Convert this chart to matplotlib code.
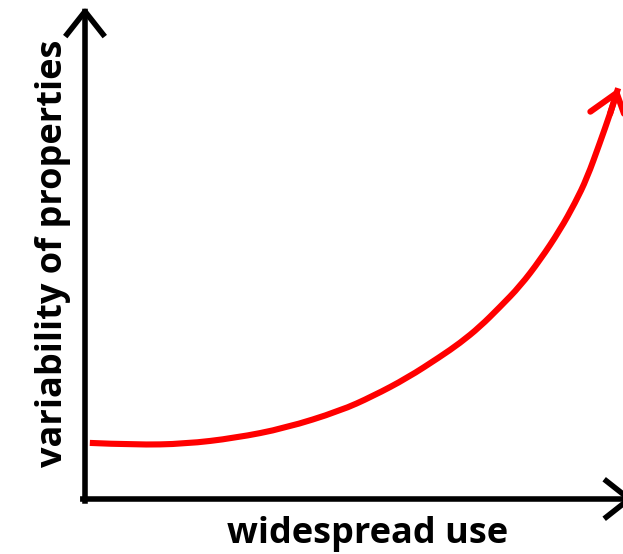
import matplotlib

matplotlib.use("Agg")
import matplotlib.pyplot as plt
from matplotlib.patches import PathPatch
from matplotlib.path import Path

OUTPUT_FILENAME = "out.png"

COLOR_CURVE = "#ff0000"
COLOR_AXIS = "#000000"

X_LABEL = "widespread use"
Y_LABEL = "variability of properties"

# curve (x: 0-100 along the x axis, y: 0-100 along the y axis)
usage = [0.9, 9.3, 18.6, 27.9, 37.2, 47.4, 53.5, 59.9, 66.0, 69.7, 73.4, 77.1, 80.9,
         84.6, 88.3, 91.1, 93.3, 95.7, 97.6, 99.1]
variability = [11.4, 11.0, 11.2, 12.4, 14.4, 17.9, 20.9, 24.6, 28.9, 31.7, 35.0, 39.0, 43.3,
               48.6, 54.7, 60.2, 65.2, 72.4, 78.3, 83.5]

W, H = 623, 554


def smooth_path(xs, ys):
    # quadratic bezier through the midpoints, read points used as control points
    verts = [(xs[0], ys[0])]
    codes = [Path.MOVETO]
    for i in range(1, len(xs) - 1):
        mid = ((xs[i] + xs[i + 1]) / 2, (ys[i] + ys[i + 1]) / 2)
        verts += [(xs[i], ys[i]), mid]
        codes += [Path.CURVE3, Path.CURVE3]
    verts.append((xs[-1], ys[-1]))
    codes.append(Path.LINETO)
    return Path(verts, codes)


def render():
    fig = plt.figure(figsize=(W / 100, H / 100), dpi=100)
    fig.patch.set_facecolor("white")

    # axes box: origin at pixel (85, 499), y tip at pixel 7, x 100 -> pixel 623
    ax = fig.add_axes([85 / W, (H - 499) / H, 538 / W, 492 / H])
    ax.set_xlim(0, 100)
    ax.set_ylim(0, 100)
    ax.axis("off")

    # ---- axis arrows ----
    axis_arrow = dict(arrowstyle="->,head_length=1.65,head_width=1.3", lw=4.0, color=COLOR_AXIS,
                      shrinkA=0, shrinkB=0, mutation_scale=10, capstyle="projecting")
    ax.annotate("", xy=(0, 100), xytext=(0, -0.4), arrowprops=axis_arrow, annotation_clip=False)
    ax.annotate("", xy=(102, 0), xytext=(-0.4, 0), arrowprops=axis_arrow, annotation_clip=False)

    # ---- red curve ----
    ax.add_patch(PathPatch(smooth_path(usage, variability), facecolor="none", edgecolor=COLOR_CURVE,
                           lw=4.4, capstyle="butt", joinstyle="round", clip_on=False))
    ax.annotate("", xy=(usage[-1], variability[-1]), xytext=(usage[-2], variability[-2]),
                arrowprops=dict(arrowstyle="->,head_length=1.85,head_width=1.4", lw=4.4, color=COLOR_CURVE,
                                shrinkA=0, shrinkB=0, mutation_scale=10),
                annotation_clip=False)

    # ---- labels ----
    font = dict(family=["Open Sans", "DejaVu Sans"], fontweight="bold", fontsize=26, color=COLOR_AXIS)
    fig.text(368 / W, 1 - 543 / H, X_LABEL, ha="center", va="baseline", **font)
    fig.text(62 / W, 1 - 253 / H, Y_LABEL, ha="center", va="baseline", rotation=90,
             rotation_mode="anchor", **font)

    fig.savefig(OUTPUT_FILENAME, dpi=100)
    plt.close(fig)


if __name__ == "__main__":
    render()
